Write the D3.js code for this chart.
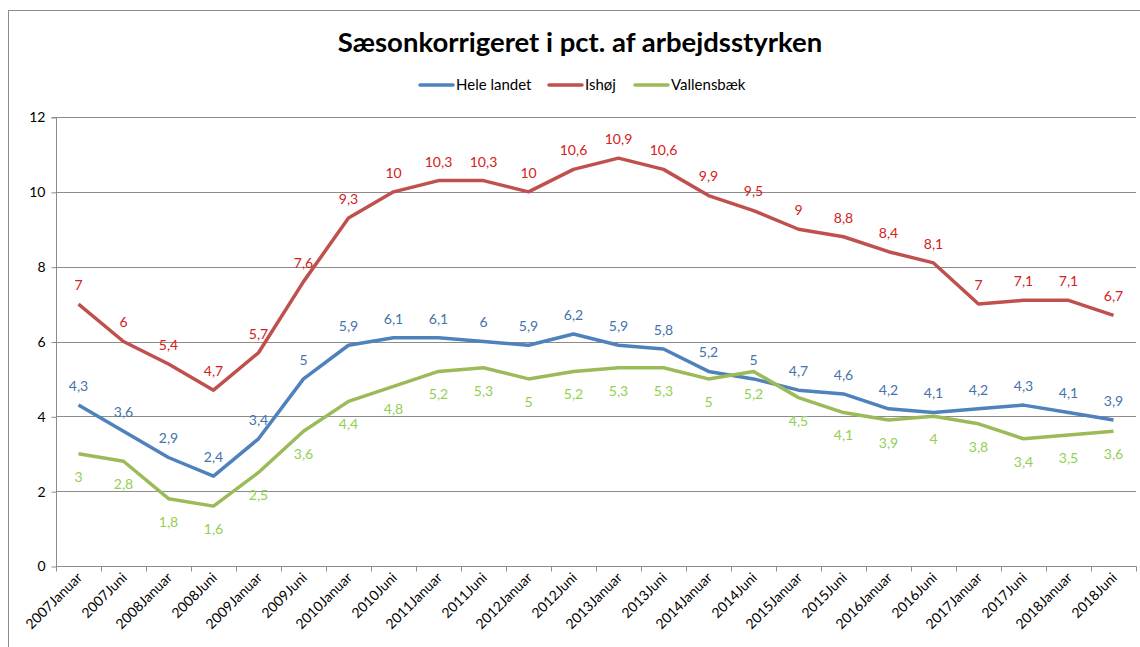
<!DOCTYPE html>
<html>
<head>
<meta charset="utf-8">
<script src="https://cdn.jsdelivr.net/npm/d3@7"></script>
<style>
  body { margin: 0; background: #fff; }
  svg { font-family: Lato, "Open Sans", sans-serif; }
</style>
</head>
<body>
<svg width="1140" height="647"></svg>
<script>
// periods on the x axis
const periods = ["2007Januar","2007Juni","2008Januar","2008Juni","2009Januar","2009Juni",
  "2010Januar","2010Juni","2011Januar","2011Juni","2012Januar","2012Juni",
  "2013Januar","2013Juni","2014Januar","2014Juni","2015Januar","2015Juni",
  "2016Januar","2016Juni","2017Januar","2017Juni","2018Januar","2018Juni"]

const heleLandet = [4.3,3.6,2.9,2.4,3.4,5,5.9,6.1,6.1,6,5.9,6.2,5.9,5.8,5.2,5,4.7,4.6,4.2,4.1,4.2,4.3,4.1,3.9]
const ishoj = [7,6,5.4,4.7,5.7,7.6,9.3,10,10.3,10.3,10,10.6,10.9,10.6,9.9,9.5,9,8.8,8.4,8.1,7,7.1,7.1,6.7]
const vallensbaek = [3,2.8,1.8,1.6,2.5,3.6,4.4,4.8,5.2,5.3,5,5.2,5.3,5.3,5,5.2,4.5,4.1,3.9,4,3.8,3.4,3.5,3.6]

const yTicks = [0,2,4,6,8,10,12]

const series = [
  {name: "Hele landet", values: heleLandet, line: "#4F81BD", label: "#4472AC", dy: -19},
  {name: "Ishøj", values: ishoj, line: "#C0504D", label: "#D42020", dy: -19},
  {name: "Vallensbæk", values: vallensbaek, line: "#9BBB59", label: "#92D050", dy: 23}
]

const svg = d3.select("svg")
const dk = d3.formatLocale({decimal: ",", thousands: ".", grouping: [3], currency: ["", " kr"]})
const fmt = v => dk.format("")(v)

// outer chart frame
svg.append("rect")
  .attr("x", 8.5).attr("y", 10.5)
  .attr("width", 1160).attr("height", 700)
  .attr("fill", "none").attr("stroke", "#8c8c8c")

const x = d3.scaleBand().domain(periods).range([56, 1136]).padding(0)
const y = d3.scaleLinear().domain([0, 12]).range([566, 117])
const cx = d => x(d) + x.bandwidth() / 2

// gridlines
svg.append("g").selectAll("line").data(yTicks.filter(t => t > 0)).join("line")
  .attr("x1", 56).attr("x2", 1136)
  .attr("y1", d => Math.round(y(d)) + 0.5).attr("y2", d => Math.round(y(d)) + 0.5)
  .attr("stroke", "#8c8c8c").attr("stroke-width", 1)

// y axis
const yAxis = svg.append("g").attr("transform", "translate(56.5,0.5)")
  .call(d3.axisLeft(y).tickValues(yTicks).tickSize(5).tickPadding(6).tickFormat(d3.format("d")))
yAxis.select(".domain").attr("stroke", "#8c8c8c").attr("d", "M-5," + Math.round(y(12)) + "H0V" + Math.round(y(0)))
yAxis.selectAll(".tick line").attr("stroke", "#8c8c8c")
yAxis.selectAll("text").attr("font-size", 14).attr("fill", "#000")
  .attr("font-family", "Lato, sans-serif")

// x axis
const xAxis = svg.append("g").attr("transform", "translate(0.5," + (Math.round(y(0)) + 0.5) + ")")
xAxis.append("line").attr("x1", 55.5).attr("x2", 1136).attr("stroke", "#8c8c8c")
xAxis.selectAll(".tk").data(periods.concat(["end"])).join("line")
  .attr("x1", (d, i) => Math.round(56 + i * x.bandwidth()))
  .attr("x2", (d, i) => Math.round(56 + i * x.bandwidth()))
  .attr("y1", 0).attr("y2", 5).attr("stroke", "#8c8c8c")
xAxis.selectAll("text").data(periods).join("text")
  .attr("transform", d => "translate(" + (cx(d) + 4) + ",12) rotate(-45)")
  .attr("text-anchor", "end")
  .attr("font-size", 14)
  .attr("fill", "#000")
  .text(d => d)

// lines
const line = d3.line().x((d, i) => cx(periods[i])).y(d => y(d))
series.forEach(s => {
  svg.append("path")
    .attr("d", line(s.values))
    .attr("fill", "none")
    .attr("stroke", s.line)
    .attr("stroke-width", 3.5)
    .attr("stroke-linejoin", "round")
})

// data labels
series.forEach(s => {
  svg.append("g").selectAll("text").data(s.values).join("text")
    .attr("x", (d, i) => cx(periods[i]))
    .attr("y", d => y(d) + s.dy)
    .attr("dy", "0.35em")
    .attr("text-anchor", "middle")
    .attr("font-size", 14)
    .attr("fill", s.label)
    .text(d => fmt(d))
})

// title
svg.append("text")
  .attr("x", 580).attr("y", 52)
  .attr("text-anchor", "middle")
  .attr("font-size", 27.5).attr("font-weight", "bold")
  .attr("fill", "#000")
  .text("Sæsonkorrigeret i pct. af arbejdsstyrken")

// legend
const legendX = [420, 549, 635]
const legend = svg.append("g")
series.forEach((s, i) => {
  const g = legend.append("g").attr("transform", "translate(" + legendX[i] + ",85)")
  g.append("line").attr("x1", 0).attr("x2", 33).attr("stroke", s.line).attr("stroke-width", 3.5).attr("stroke-linecap", "round")
  g.append("text").attr("x", 36).attr("dy", "0.35em")
    .attr("font-size", 15).attr("fill", "#000").text(s.name)
})
</script>
</body>
</html>
